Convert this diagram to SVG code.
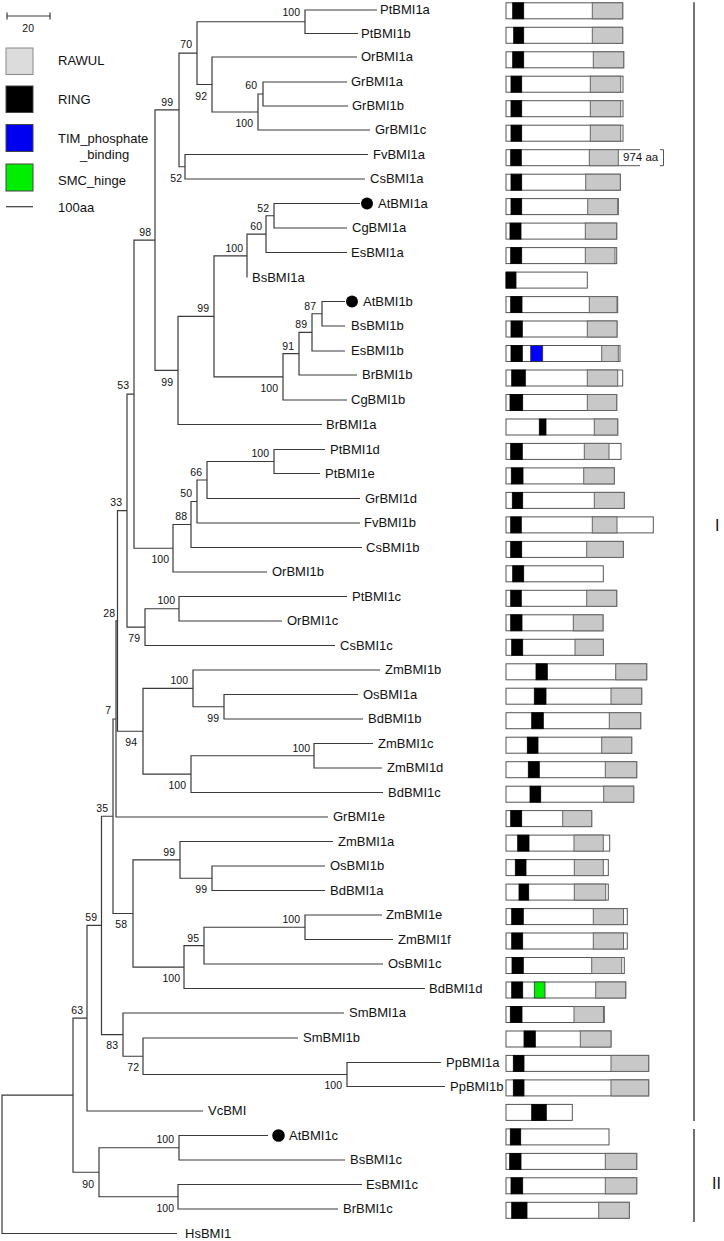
<svg xmlns="http://www.w3.org/2000/svg" width="724" height="1241" viewBox="0 0 724 1241">
<style>
text{font-family:"Liberation Sans",Arial,sans-serif;fill:#111}
.lf{font-size:13px}
.bs{font-size:10.5px;text-anchor:end}
.lg{font-size:13px}
.tree{fill:none;stroke:#3a3a3a;stroke-width:1.2}
.o{fill:#fff;stroke:#555;stroke-width:1}
.r{fill:#000;stroke:#000;stroke-width:0.8}
.g{fill:#c8c8c8;stroke:#666;stroke-width:1}
.bl{fill:#0000ff;stroke:#333;stroke-width:0.8}
.gr{fill:#00ee00;stroke:#333;stroke-width:0.8}
.dot{fill:#000}
.bar{fill:none;stroke:#444;stroke-width:1.5}
.cl{font-size:16px}
</style>
<rect x="0" y="0" width="724" height="1241" fill="#fff"/>
<g id="legend">
<path class="tree" d="M7 16H50M7 12.5V19.5M50 12.5V19.5"/>
<text class="bs" x="34" y="32">20</text>
<rect x="6" y="48" width="27" height="26.5" fill="#dcdcdc" stroke="#888"/>
<rect x="6" y="86" width="27" height="26.5" fill="#000" stroke="#444"/>
<rect x="6" y="124.5" width="27" height="27" fill="#0000f0" stroke="#444"/>
<rect x="6" y="164" width="27" height="27" fill="#00ee00" stroke="#444"/>
<path class="tree" d="M6 206.7H33"/>
<text class="lg" x="58" y="65">RAWUL</text>
<text class="lg" x="58" y="104">RING</text>
<text class="lg" x="58" y="143">TIM_phosphate</text>
<text class="lg" x="80" y="158.5">_binding</text>
<text class="lg" x="58" y="185">SMC_hinge</text>
<text class="lg" x="58" y="211.5">100aa</text>
</g>
<g id="connectors">
<path class="tree" d="M377 10H305V33.5H358M347 82H263V106H348M263 94H258V130H370M357 57H212V112H258M305 21.75H197V84.5H212M368 154.5H185V179H365M197 53.1H179V166.75H185M360 203.5H274V228H347M274 215.75H266V252.5H347M266 234.1H247V277.5M345 301.5H322V326H345M322 313.75H312V351H345M312 332.4H299V375H357M299 353.7H283V400H347M247 255.8H214V376.85H283M214 316.3H178V424.5H322M179 109.9H155V370.4H178M325 449.5H274V473.5H320M274 461.5H207V498.5H360M207 480H197V523H360M197 501.5H191V547.5H362M191 524.5H173V572H267M155 240.15H134V548.25H173M347 596.5H179V621H282M179 608.75H145V645.5H335M134 394.2H127V627.1H145M358 694.5H224V719H363M380 670H193V706.75H224M373 743.5H314V768H382M314 755.75H191V792.5H383M193 688.4H143V774.1H191M127 510.65H117.5V731.25H143M117.5 620.95H116V817H328M325 866H212V890.5H325M333 841.5H180V878.25H212M382 915H305V939.5H393M305 927.25H204V964H383M204 945.6H184V988.5H425M180 859.9H133V967.05H184M116 719H113V913.5H133M441 1062.5H347V1086.5H445M298 1038H143V1074.5H347M344 1013H123V1056.25H143M113 816.25H101.5V1034.6H123M101.5 925.4H87V1111H203M268 1135.5H179V1160H345M362 1184.5H178V1209H338M179 1147.75H99V1196.75H178M87 1018.2H73V1172.25H99M73 1095.2H2V1233.5H177"/>
</g>
<g id="support">
<text class="bs" x="300" y="16">100</text>
<text class="bs" x="192" y="48">70</text>
<text class="bs" x="207" y="100">92</text>
<text class="bs" x="173" y="106">99</text>
<text class="bs" x="257" y="89">60</text>
<text class="bs" x="253" y="127">100</text>
<text class="bs" x="182" y="182">52</text>
<text class="bs" x="269" y="212">52</text>
<text class="bs" x="262" y="230">60</text>
<text class="bs" x="243" y="252">100</text>
<text class="bs" x="209" y="312">99</text>
<text class="bs" x="316" y="310">87</text>
<text class="bs" x="307" y="328">89</text>
<text class="bs" x="294" y="350">91</text>
<text class="bs" x="278" y="392">100</text>
<text class="bs" x="173" y="386">99</text>
<text class="bs" x="151" y="236">98</text>
<text class="bs" x="129" y="389">53</text>
<text class="bs" x="269" y="457">100</text>
<text class="bs" x="202" y="476">66</text>
<text class="bs" x="192" y="497">50</text>
<text class="bs" x="187" y="520">88</text>
<text class="bs" x="169" y="563">100</text>
<text class="bs" x="122" y="506">33</text>
<text class="bs" x="115" y="617">28</text>
<text class="bs" x="175" y="604">100</text>
<text class="bs" x="140" y="642">79</text>
<text class="bs" x="188" y="684">100</text>
<text class="bs" x="219" y="722">99</text>
<text class="bs" x="310" y="752">100</text>
<text class="bs" x="137" y="746">94</text>
<text class="bs" x="186" y="789">100</text>
<text class="bs" x="111" y="714">7</text>
<text class="bs" x="108" y="812">35</text>
<text class="bs" x="175" y="856">99</text>
<text class="bs" x="207" y="893">99</text>
<text class="bs" x="300" y="923">100</text>
<text class="bs" x="199" y="942">95</text>
<text class="bs" x="180" y="982">100</text>
<text class="bs" x="127" y="928">58</text>
<text class="bs" x="97" y="921">59</text>
<text class="bs" x="83" y="1014">63</text>
<text class="bs" x="118" y="1049">83</text>
<text class="bs" x="139" y="1071">72</text>
<text class="bs" x="342" y="1089">100</text>
<text class="bs" x="174" y="1143">100</text>
<text class="bs" x="94" y="1188">90</text>
<text class="bs" x="174" y="1212">100</text>
</g>
<g id="PtBMI1a"><text class="lf" x="380" y="14">PtBMI1a</text><rect class="o" x="506" y="2.8" width="116.7" height="16"/><rect class="r" x="512.7" y="2.8" width="11" height="16"/><rect class="g" x="592.3" y="2.8" width="30.4" height="16"/></g>
<g id="PtBMI1b"><text class="lf" x="361" y="37.5">PtBMI1b</text><rect class="o" x="506" y="27.3" width="116.7" height="16"/><rect class="r" x="513.7" y="27.3" width="10" height="16"/><rect class="g" x="592.3" y="27.3" width="30.4" height="16"/></g>
<g id="OrBMI1a"><text class="lf" x="361" y="61">OrBMI1a</text><rect class="o" x="506" y="51.8" width="117.7" height="16"/><rect class="r" x="512.7" y="51.8" width="11" height="16"/><rect class="g" x="593.3" y="51.8" width="30.4" height="16"/></g>
<g id="GrBMI1a"><text class="lf" x="351" y="86">GrBMI1a</text><rect class="o" x="506" y="76.2" width="117" height="16"/><rect class="r" x="511" y="76.2" width="10.7" height="16"/><rect class="g" x="590.3" y="76.2" width="30.4" height="16"/></g>
<g id="GrBMI1b"><text class="lf" x="352" y="110">GrBMI1b</text><rect class="o" x="506" y="100.7" width="117" height="16"/><rect class="r" x="511" y="100.7" width="10.7" height="16"/><rect class="g" x="590.3" y="100.7" width="30.4" height="16"/></g>
<g id="GrBMI1c"><text class="lf" x="375" y="134">GrBMI1c</text><rect class="o" x="506" y="125.2" width="117" height="16"/><rect class="r" x="511" y="125.2" width="10.7" height="16"/><rect class="g" x="590.3" y="125.2" width="30.4" height="16"/></g>
<g id="FvBMI1a"><text class="lf" x="373" y="158.5">FvBMI1a</text><path d="M640 149.7H506V165.7H640" fill="#fff" stroke="#555"/><rect class="r" x="510.7" y="149.7" width="10.6" height="16"/><rect class="g" x="589.3" y="149.7" width="29" height="16"/><text x="623" y="161" style="font-size:11.5px">974 aa</text><path d="M660 149.7H663.5V165.7H660" fill="none" stroke="#555"/></g>
<g id="CsBMI1a"><text class="lf" x="370" y="183">CsBMI1a</text><rect class="o" x="506" y="174.2" width="114.3" height="16"/><rect class="r" x="511" y="174.2" width="10.7" height="16"/><rect class="g" x="585.7" y="174.2" width="34.6" height="16"/></g>
<g id="AtBMI1a"><circle class="dot" cx="367" cy="203.5" r="6"/><text class="lf" x="378" y="207.5">AtBMI1a</text><rect class="o" x="506" y="198.6" width="112.3" height="16"/><rect class="r" x="511" y="198.6" width="10.7" height="16"/><rect class="g" x="587.7" y="198.6" width="30" height="16"/></g>
<g id="CgBMI1a"><text class="lf" x="352" y="232">CgBMI1a</text><rect class="o" x="506" y="223.1" width="110.7" height="16"/><rect class="r" x="510" y="223.1" width="11" height="16"/><rect class="g" x="585.3" y="223.1" width="31.4" height="16"/></g>
<g id="EsBMI1a"><text class="lf" x="351" y="256.5">EsBMI1a</text><rect class="o" x="506" y="247.6" width="110.7" height="16"/><rect class="r" x="510.7" y="247.6" width="11" height="16"/><rect class="g" x="585.3" y="247.6" width="29.7" height="16"/></g>
<g id="BsBMI1a"><text class="lf" x="252" y="281.5">BsBMI1a</text><rect class="o" x="506" y="272.1" width="81.3" height="16"/><rect class="r" x="506" y="272.1" width="10" height="16"/></g>
<g id="AtBMI1b"><circle class="dot" cx="352" cy="301.5" r="6"/><text class="lf" x="363" y="305.5">AtBMI1b</text><rect class="o" x="506" y="296.6" width="111.7" height="16"/><rect class="r" x="510.7" y="296.6" width="11.3" height="16"/><rect class="g" x="589.3" y="296.6" width="27.7" height="16"/></g>
<g id="BsBMI1b"><text class="lf" x="351" y="330">BsBMI1b</text><rect class="o" x="506" y="321" width="111" height="16"/><rect class="r" x="511" y="321" width="11.3" height="16"/><rect class="g" x="587.3" y="321" width="29.7" height="16"/></g>
<g id="EsBMI1b"><text class="lf" x="351" y="355">EsBMI1b</text><rect class="o" x="506" y="345.5" width="114" height="16"/><rect class="r" x="511" y="345.5" width="11.3" height="16"/><rect class="bl" x="530.7" y="345.5" width="12" height="16"/><rect class="g" x="601.7" y="345.5" width="16.6" height="16"/></g>
<g id="BrBMI1b"><text class="lf" x="362" y="379">BrBMI1b</text><rect class="o" x="506" y="370" width="116.7" height="16"/><rect class="r" x="511.7" y="370" width="13.6" height="16"/><rect class="g" x="587.3" y="370" width="30.4" height="16"/></g>
<g id="CgBMI1b"><text class="lf" x="351" y="404">CgBMI1b</text><rect class="o" x="506" y="394.5" width="110.7" height="16"/><rect class="r" x="510" y="394.5" width="12.7" height="16"/><rect class="g" x="587.3" y="394.5" width="29.4" height="16"/></g>
<g id="BrBMI1a"><text class="lf" x="326" y="428.5">BrBMI1a</text><rect class="o" x="506" y="419" width="111.7" height="16"/><rect class="r" x="539.3" y="419" width="6.7" height="16"/><rect class="g" x="594.3" y="419" width="23.4" height="16"/></g>
<g id="PtBMI1d"><text class="lf" x="330" y="453.5">PtBMI1d</text><rect class="o" x="506" y="443.4" width="115" height="16"/><rect class="r" x="510.7" y="443.4" width="11.6" height="16"/><rect class="g" x="584.3" y="443.4" width="24.7" height="16"/></g>
<g id="PtBMI1e"><text class="lf" x="325" y="477.5">PtBMI1e</text><rect class="o" x="506" y="467.9" width="108.3" height="16"/><rect class="r" x="511.3" y="467.9" width="11.7" height="16"/><rect class="g" x="583.7" y="467.9" width="30.6" height="16"/></g>
<g id="GrBMI1d"><text class="lf" x="365" y="502.5">GrBMI1d</text><rect class="o" x="506" y="492.4" width="118.3" height="16"/><rect class="r" x="512.3" y="492.4" width="10.4" height="16"/><rect class="g" x="594.3" y="492.4" width="30" height="16"/></g>
<g id="FvBMI1b"><text class="lf" x="364" y="527">FvBMI1b</text><rect class="o" x="506" y="516.9" width="147.3" height="16"/><rect class="r" x="510.7" y="516.9" width="10.6" height="16"/><rect class="g" x="592.3" y="516.9" width="24.7" height="16"/></g>
<g id="CsBMI1b"><text class="lf" x="366" y="551.5">CsBMI1b</text><rect class="o" x="506" y="541.4" width="117.3" height="16"/><rect class="r" x="510.7" y="541.4" width="11" height="16"/><rect class="g" x="586.7" y="541.4" width="36.6" height="16"/></g>
<g id="OrBMI1b"><text class="lf" x="272" y="576">OrBMI1b</text><rect class="o" x="506" y="565.8" width="97.3" height="16"/><rect class="r" x="512.7" y="565.8" width="11" height="16"/></g>
<g id="PtBMI1c"><text class="lf" x="352" y="600.5">PtBMI1c</text><rect class="o" x="506" y="590.3" width="110.7" height="16"/><rect class="r" x="510.7" y="590.3" width="10.6" height="16"/><rect class="g" x="586.7" y="590.3" width="30" height="16"/></g>
<g id="OrBMI1c"><text class="lf" x="287" y="625">OrBMI1c</text><rect class="o" x="506" y="614.8" width="97" height="16"/><rect class="r" x="510.7" y="614.8" width="11.3" height="16"/><rect class="g" x="573.3" y="614.8" width="29.7" height="16"/></g>
<g id="CsBMI1c"><text class="lf" x="340" y="649.5">CsBMI1c</text><rect class="o" x="506" y="639.3" width="97.3" height="16"/><rect class="r" x="511.7" y="639.3" width="11" height="16"/><rect class="g" x="575" y="639.3" width="28.3" height="16"/></g>
<g id="ZmBMI1b"><text class="lf" x="385" y="674">ZmBMI1b</text><rect class="o" x="506" y="663.8" width="140.7" height="16"/><rect class="r" x="536" y="663.8" width="11.3" height="16"/><rect class="g" x="615.7" y="663.8" width="31" height="16"/></g>
<g id="OsBMI1a"><text class="lf" x="363" y="698.5">OsBMI1a</text><rect class="o" x="506" y="688.2" width="135.7" height="16"/><rect class="r" x="534.3" y="688.2" width="11.7" height="16"/><rect class="g" x="611" y="688.2" width="30.7" height="16"/></g>
<g id="BdBMI1b"><text class="lf" x="368" y="723">BdBMI1b</text><rect class="o" x="506" y="712.7" width="134.7" height="16"/><rect class="r" x="531.7" y="712.7" width="11.6" height="16"/><rect class="g" x="609.3" y="712.7" width="31.4" height="16"/></g>
<g id="ZmBMI1c"><text class="lf" x="378" y="747.5">ZmBMI1c</text><rect class="o" x="506" y="737.2" width="125.7" height="16"/><rect class="r" x="527.3" y="737.2" width="10.7" height="16"/><rect class="g" x="601.7" y="737.2" width="30" height="16"/></g>
<g id="ZmBMI1d"><text class="lf" x="387" y="772">ZmBMI1d</text><rect class="o" x="506" y="761.7" width="130.7" height="16"/><rect class="r" x="528.3" y="761.7" width="11" height="16"/><rect class="g" x="605.3" y="761.7" width="31.4" height="16"/></g>
<g id="BdBMI1c"><text class="lf" x="388" y="796.5">BdBMI1c</text><rect class="o" x="506" y="786.2" width="127.7" height="16"/><rect class="r" x="530" y="786.2" width="10.7" height="16"/><rect class="g" x="603.7" y="786.2" width="30" height="16"/></g>
<g id="GrBMI1e"><text class="lf" x="333" y="821">GrBMI1e</text><rect class="o" x="506" y="810.6" width="85.7" height="16"/><rect class="r" x="510.7" y="810.6" width="11" height="16"/><rect class="g" x="562.7" y="810.6" width="29" height="16"/></g>
<g id="ZmBMI1a"><text class="lf" x="338" y="845.5">ZmBMI1a</text><rect class="o" x="506" y="835.1" width="103.7" height="16"/><rect class="r" x="517.7" y="835.1" width="11.3" height="16"/><rect class="g" x="574" y="835.1" width="29.3" height="16"/></g>
<g id="OsBMI1b"><text class="lf" x="330" y="870">OsBMI1b</text><rect class="o" x="506" y="859.6" width="102.3" height="16"/><rect class="r" x="515.3" y="859.6" width="10.7" height="16"/><rect class="g" x="574.3" y="859.6" width="29" height="16"/></g>
<g id="BdBMI1a"><text class="lf" x="330" y="894.5">BdBMI1a</text><rect class="o" x="506" y="884.1" width="102.3" height="16"/><rect class="r" x="519" y="884.1" width="9.7" height="16"/><rect class="g" x="574.3" y="884.1" width="31.4" height="16"/></g>
<g id="ZmBMI1e"><text class="lf" x="386" y="919">ZmBMI1e</text><rect class="o" x="506" y="908.6" width="121.3" height="16"/><rect class="r" x="511.7" y="908.6" width="11.6" height="16"/><rect class="g" x="593.3" y="908.6" width="30.2" height="16"/></g>
<g id="ZmBMI1f"><text class="lf" x="398" y="943.5">ZmBMI1f</text><rect class="o" x="506" y="933" width="121.3" height="16"/><rect class="r" x="511.7" y="933" width="11" height="16"/><rect class="g" x="593.3" y="933" width="30.2" height="16"/></g>
<g id="OsBMI1c"><text class="lf" x="388" y="968">OsBMI1c</text><rect class="o" x="506" y="957.5" width="118.3" height="16"/><rect class="r" x="512" y="957.5" width="11.3" height="16"/><rect class="g" x="591.7" y="957.5" width="30" height="16"/></g>
<g id="BdBMI1d"><text class="lf" x="429" y="992.5">BdBMI1d</text><rect class="o" x="506" y="982" width="119.7" height="16"/><rect class="r" x="511.7" y="982" width="11" height="16"/><rect class="gr" x="534.3" y="982" width="10.7" height="16"/><rect class="g" x="595.7" y="982" width="30" height="16"/></g>
<g id="SmBMI1a"><text class="lf" x="349" y="1017">SmBMI1a</text><rect class="o" x="506" y="1006.5" width="98.3" height="16"/><rect class="r" x="510.3" y="1006.5" width="11.7" height="16"/><rect class="g" x="574" y="1006.5" width="29.5" height="16"/></g>
<g id="SmBMI1b"><text class="lf" x="303" y="1042">SmBMI1b</text><rect class="o" x="506" y="1031" width="105" height="16"/><rect class="r" x="524" y="1031" width="11.3" height="16"/><rect class="g" x="580.3" y="1031" width="30.7" height="16"/></g>
<g id="PpBMI1a"><text class="lf" x="446" y="1066.5">PpBMI1a</text><rect class="o" x="506" y="1055.4" width="142.7" height="16"/><rect class="r" x="513.3" y="1055.4" width="10.7" height="16"/><rect class="g" x="611" y="1055.4" width="37.7" height="16"/></g>
<g id="PpBMI1b"><text class="lf" x="450" y="1090.5">PpBMI1b</text><rect class="o" x="506" y="1079.9" width="142.7" height="16"/><rect class="r" x="513.3" y="1079.9" width="10.7" height="16"/><rect class="g" x="611" y="1079.9" width="37.7" height="16"/></g>
<g id="VcBMI"><text class="lf" x="208" y="1115">VcBMI</text><rect class="o" x="506" y="1104.4" width="66.3" height="16"/><rect class="r" x="531.7" y="1104.4" width="14.6" height="16"/></g>
<g id="AtBMI1c"><circle class="dot" cx="278.5" cy="1135.5" r="6.3"/><text class="lf" x="289" y="1139.5">AtBMI1c</text><rect class="o" x="506" y="1128.9" width="103" height="16"/><rect class="r" x="510.3" y="1128.9" width="10.4" height="16"/></g>
<g id="BsBMI1c"><text class="lf" x="350" y="1164">BsBMI1c</text><rect class="o" x="506" y="1153.4" width="130.7" height="16"/><rect class="r" x="509.7" y="1153.4" width="11.3" height="16"/><rect class="g" x="605.3" y="1153.4" width="31.4" height="16"/></g>
<g id="EsBMI1c"><text class="lf" x="366" y="1188.5">EsBMI1c</text><rect class="o" x="506" y="1177.8" width="130.7" height="16"/><rect class="r" x="511" y="1177.8" width="11.7" height="16"/><rect class="g" x="605.3" y="1177.8" width="31.4" height="16"/></g>
<g id="BrBMI1c"><text class="lf" x="343" y="1213">BrBMI1c</text><rect class="o" x="506" y="1202.3" width="123.3" height="16"/><rect class="r" x="511.7" y="1202.3" width="15.3" height="16"/><rect class="g" x="598.7" y="1202.3" width="30.6" height="16"/></g>
<g id="HsBMI1"><text class="lf" x="185" y="1237.5">HsBMI1</text></g>
<g id="clades">
<path class="bar" d="M694 2.3V1121M694 1129V1222"/>
<text class="cl" x="715" y="531">I</text>
<text class="cl" x="712" y="1189">II</text>
</g>
</svg>
